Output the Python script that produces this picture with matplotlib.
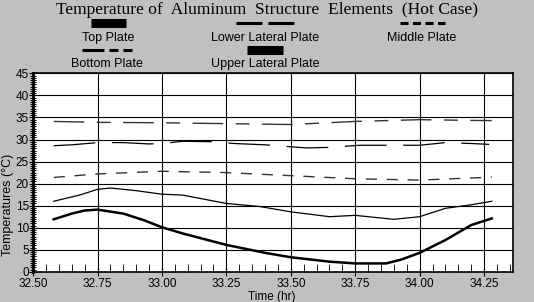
import numpy as np
import matplotlib
matplotlib.use("Agg")
from matplotlib import pyplot as plt
from matplotlib.lines import Line2D
from matplotlib.ticker import MultipleLocator

plt.rcParams['font.family'] = ['Liberation Sans', 'DejaVu Sans']
plt.rcParams['lines.scale_dashes'] = False

# data (time in hours, temperature in deg C)
t_top = [32.58, 32.65, 32.70, 32.75, 32.85, 32.93, 33.00, 33.08, 33.25, 33.40, 33.50, 33.65, 33.75, 33.87, 33.93, 34.00, 34.10, 34.20, 34.28]
top_plate = [11.9, 13.2, 13.9, 14.1, 13.2, 11.7, 10.1, 8.7, 6.1, 4.3, 3.3, 2.3, 1.9, 1.9, 2.8, 4.3, 7.2, 10.6, 12.1]

t_upper = [32.58, 32.68, 32.75, 32.80, 32.90, 33.00, 33.08, 33.25, 33.38, 33.50, 33.65, 33.75, 33.90, 34.00, 34.10, 34.20, 34.28]
upper_lateral = [16.0, 17.4, 18.7, 19.0, 18.4, 17.6, 17.4, 15.5, 14.8, 13.6, 12.5, 12.8, 11.9, 12.5, 14.4, 15.2, 16.0]

t_middle = [32.58, 32.75, 33.00, 33.08, 33.25, 33.50, 33.75, 34.00, 34.25, 34.28]
middle_plate = [21.4, 22.2, 22.8, 22.7, 22.5, 21.8, 21.1, 20.8, 21.4, 21.5]

t_lower = [32.58, 32.65, 32.75, 32.85, 32.95, 33.00, 33.08, 33.20, 33.28, 33.40, 33.56, 33.64, 33.77, 33.91, 34.00, 34.10, 34.20, 34.27]
lower_lateral = [28.6, 28.8, 29.3, 29.3, 29.0, 29.1, 29.6, 29.5, 29.1, 28.8, 28.1, 28.2, 28.7, 28.7, 28.7, 29.3, 29.1, 28.9]

t_bottom = [32.58, 32.75, 33.00, 33.25, 33.50, 33.75, 34.00, 34.25, 34.28]
bottom_plate = [34.1, 33.9, 33.8, 33.6, 33.4, 34.1, 34.5, 34.3, 34.3]

x_ticks = [32.50, 32.75, 33.00, 33.25, 33.50, 33.75, 34.00, 34.25]

fig = plt.figure(figsize=(5.34, 3.02), dpi=100, facecolor='#c0c0c0')
ax = fig.add_axes([0.062, 0.100, 0.899, 0.657])
ax.set_facecolor('white')

ax.plot(t_top, top_plate, color='black', lw=1.8)
ax.plot(t_upper, upper_lateral, color='black', lw=0.9)
ax.plot(t_middle, middle_plate, color='#333333', lw=1.0, dashes=(8, 7))
ax.plot(t_lower, lower_lateral, color='black', lw=0.9, dashes=(30, 12))
ax.plot(t_bottom, bottom_plate, color='#333333', lw=1.0, dashes=(22, 9, 10, 9))

ax.set_xlim(32.5, 34.363)
ax.set_ylim(0, 45)
ax.set_xticks(x_ticks)
ax.set_xticklabels(['%.2f' % v for v in x_ticks])
ax.xaxis.set_minor_locator(MultipleLocator(0.05))
ax.yaxis.set_major_locator(MultipleLocator(5))
ax.yaxis.set_minor_locator(MultipleLocator(0.5))
ax.grid(True, which='major', color='black', lw=0.8)
ax.tick_params(axis='x', which='major', direction='inout', length=6, labelsize=8.5, pad=1.5, top=False)
ax.tick_params(axis='x', which='minor', direction='in', length=6, top=False)
ax.tick_params(axis='y', which='major', direction='inout', length=6, labelsize=8.5, pad=0, right=False)
ax.tick_params(axis='y', which='minor', direction='inout', length=4, width=0.7, right=False)
for s in ax.spines.values():
    s.set_linewidth(1.2)
ax.spines['left'].set_linewidth(2)

ax.set_xlabel('Time (hr)', fontsize=8.5)
ax.xaxis.set_label_coords(0.498, -0.097)
ax.set_ylabel('Temperatures (\u00b0C)', fontsize=9)
ax.yaxis.set_label_coords(-0.040, 0.335)

fig.text(0.5, 0.968, 'Temperature of  Aluminum  Structure  Elements  (Hot Case)',
         family='Liberation Serif', fontsize=12.6, ha='center', va='center')

# legend: handle drawn above its label (widths in pixels)
legend = [
    ('Top Plate', 108, 0.924, 0.874, 35, dict(lw=6.5, color='black')),
    ('Lower Lateral Plate', 265, 0.924, 0.874, 58, dict(lw=2.2, color='black', dashes=(18.7, 4.3))),
    ('Middle Plate', 422, 0.924, 0.874, 45, dict(lw=2.2, color='black', dashes=(5.76, 3.24))),
    ('Bottom Plate', 107, 0.834, 0.788, 50, dict(lw=2.2, color='black', dashes=(15.8, 3.6, 6.5, 3.6, 6.5, 3.6))),
    ('Upper Lateral Plate', 265, 0.834, 0.788, 36, dict(lw=6.5, color='black')),
]
W = 534.0
for name, cx, hy, ly, width, style in legend:
    x0 = (cx - width / 2) / W
    x1 = (cx + width / 2) / W
    fig.add_artist(Line2D([x0, x1], [hy, hy], transform=fig.transFigure,
                          solid_capstyle='butt', dash_capstyle='butt', **style))
    fig.text(cx / W, ly, name, fontsize=9, ha='center', va='center')

fig.savefig('out.png', dpi=100, facecolor=fig.get_facecolor())
